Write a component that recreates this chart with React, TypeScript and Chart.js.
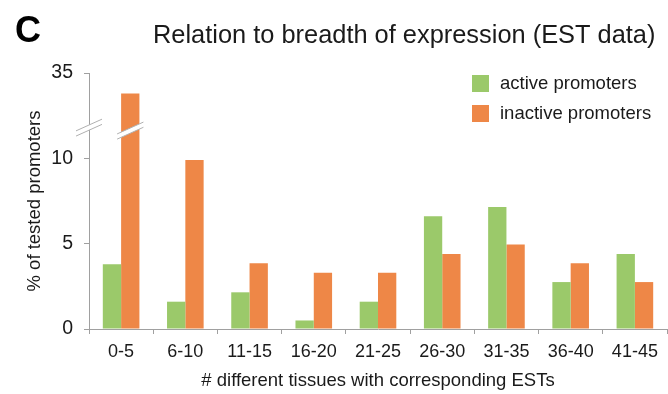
import React, { useEffect, useRef } from "react";
import { Chart, registerables } from "chart.js";

Chart.register(...registerables);

const categories = ["0-5", "6-10", "11-15", "16-20", "21-25", "26-30", "31-35", "36-40", "41-45"];
const activeValues = [3.8, 1.6, 2.15, 0.5, 1.6, 6.6, 7.15, 2.75, 4.4];
const inactiveValues = [33.8, 9.9, 3.85, 3.3, 3.3, 4.4, 4.95, 3.85, 2.75];
const yTickValues = [0, 5, 10, 35];
const seriesLabels = ["active promoters", "inactive promoters"];
const seriesColors = ["#9BC96A", "#EE8747"];

// broken axis: values above breakStart are shifted down by breakOffset
const breakStart = 12;
const breakOffset = 20;
const breakMark = 11.8;
const toDisplay = (v: number) => (v > breakStart ? v - breakOffset : v);
const toLabel = (v: number) => (v > breakStart ? v + breakOffset : v);

const FONT = "'Liberation Sans', Arial, Helvetica, sans-serif";
const TEXT = "#1a1a1a";
const AXIS = "#a0a0a0";

const decorPlugin = {
  id: "decor",
  afterDraw(chart: any) {
    const ctx = chart.ctx;
    const area = chart.chartArea;
    const yScale = chart.scales.y;
    ctx.save();
    // panel letter and title
    ctx.fillStyle = "#000";
    ctx.textBaseline = "alphabetic";
    ctx.textAlign = "left";
    ctx.font = `bold 36px ${FONT}`;
    ctx.fillText("C", 15, 42);
    ctx.fillStyle = TEXT;
    ctx.font = `25.4px ${FONT}`;
    ctx.fillText("Relation to breadth of expression (EST data)", 153, 43);

    // y axis title
    ctx.save();
    ctx.translate(35, (area.top + area.bottom) / 2);
    ctx.rotate(-Math.PI / 2);
    ctx.textAlign = "center";
    ctx.textBaseline = "middle";
    ctx.font = `18.5px ${FONT}`;
    ctx.fillText("% of tested promoters", 0, 0);
    ctx.restore();

    // legend
    const lx = 472;
    const ly = [75, 105];
    chart.data.datasets.forEach((ds: any, i: number) => {
      ctx.fillStyle = ds.backgroundColor;
      ctx.fillRect(lx, ly[i], 17, 17);
      ctx.fillStyle = TEXT;
      ctx.font = `18.5px ${FONT}`;
      ctx.textAlign = "left";
      ctx.textBaseline = "middle";
      ctx.fillText(ds.label, 500, ly[i] + 9);
    });

    // axis break marks
    const yb = yScale.getPixelForValue(breakMark);
    const drawBreak = (cx: number, cy: number, half: number) => {
      const slope = -0.45;
      const gap = 2.6;
      ctx.beginPath();
      ctx.moveTo(cx - half, cy - slope * half - gap);
      ctx.lineTo(cx + half, cy + slope * half - gap);
      ctx.lineTo(cx + half, cy + slope * half + gap);
      ctx.lineTo(cx - half, cy - slope * half + gap);
      ctx.closePath();
      ctx.fillStyle = "#fff";
      ctx.fill();
      ctx.strokeStyle = "#b0b0b0";
      ctx.lineWidth = 1;
      ctx.beginPath();
      ctx.moveTo(cx - half, cy - slope * half - gap);
      ctx.lineTo(cx + half, cy + slope * half - gap);
      ctx.moveTo(cx - half, cy - slope * half + gap);
      ctx.lineTo(cx + half, cy + slope * half + gap);
      ctx.stroke();
    };
    drawBreak(area.left, yb, 13);
    const meta = chart.getDatasetMeta(1);
    inactiveValues.forEach((v, i) => {
      if (v > breakStart) {
        const bar = meta.data[i];
        drawBreak(bar.x, yb + 3, bar.width / 2 + 4);
      }
    });
    ctx.restore();
  },
};

export default function App() {
  const ref = useRef<HTMLCanvasElement | null>(null);
  useEffect(() => {
    if (!ref.current) return;
    const chart = new Chart(ref.current, {
      type: "bar",
      data: {
        labels: categories,
        datasets: [
          {
            label: seriesLabels[0],
            data: activeValues.map(toDisplay),
            backgroundColor: seriesColors[0],
            categoryPercentage: 0.57,
            barPercentage: 1.0,
          },
          {
            label: seriesLabels[1],
            data: inactiveValues.map(toDisplay),
            backgroundColor: seriesColors[1],
            categoryPercentage: 0.57,
            barPercentage: 1.0,
          },
        ],
      },
      options: {
        responsive: false,
        animation: false,
        layout: { padding: { top: 73, right: 1, left: 0, bottom: 0 } },
        plugins: { legend: { display: false }, tooltip: { enabled: false }, title: { display: false } },
        scales: {
          x: {
            grid: { display: true, drawOnChartArea: false, drawTicks: true, tickLength: 5, color: AXIS, offset: true },
            border: { display: true, color: AXIS },
            ticks: { color: TEXT, font: { family: FONT, size: 18 }, padding: 7, maxRotation: 0 },
            title: {
              display: true,
              text: "# different tissues with corresponding ESTs",
              color: TEXT,
              font: { family: FONT, size: 18.5 },
              padding: { top: 4, bottom: 2 },
            },
            afterFit(scale: any) {
              scale.height = 65;
            },
          },
          y: {
            min: 0,
            max: toDisplay(35),
            grid: { display: true, drawOnChartArea: false, drawTicks: true, tickLength: 5, color: AXIS },
            border: { display: true, color: AXIS },
            ticks: {
              color: TEXT,
              font: { family: FONT, size: 19.5 },
              padding: 11,
              callback: (v: any) => String(toLabel(Number(v))),
            },
            afterBuildTicks(scale: any) {
              scale.ticks = yTickValues.map((t) => ({ value: toDisplay(t) }));
            },
            afterFit(scale: any) {
              scale.width = 89;
            },
          },
        },
      },
      plugins: [decorPlugin],
    });
    return () => chart.destroy();
  }, []);
  return (
    <div style={{ position: "absolute", left: 0, top: 0, width: 668, height: 394, background: "#fff" }}>
      <canvas ref={ref} width={668} height={394} style={{ display: "block" }} />
    </div>
  );
}
